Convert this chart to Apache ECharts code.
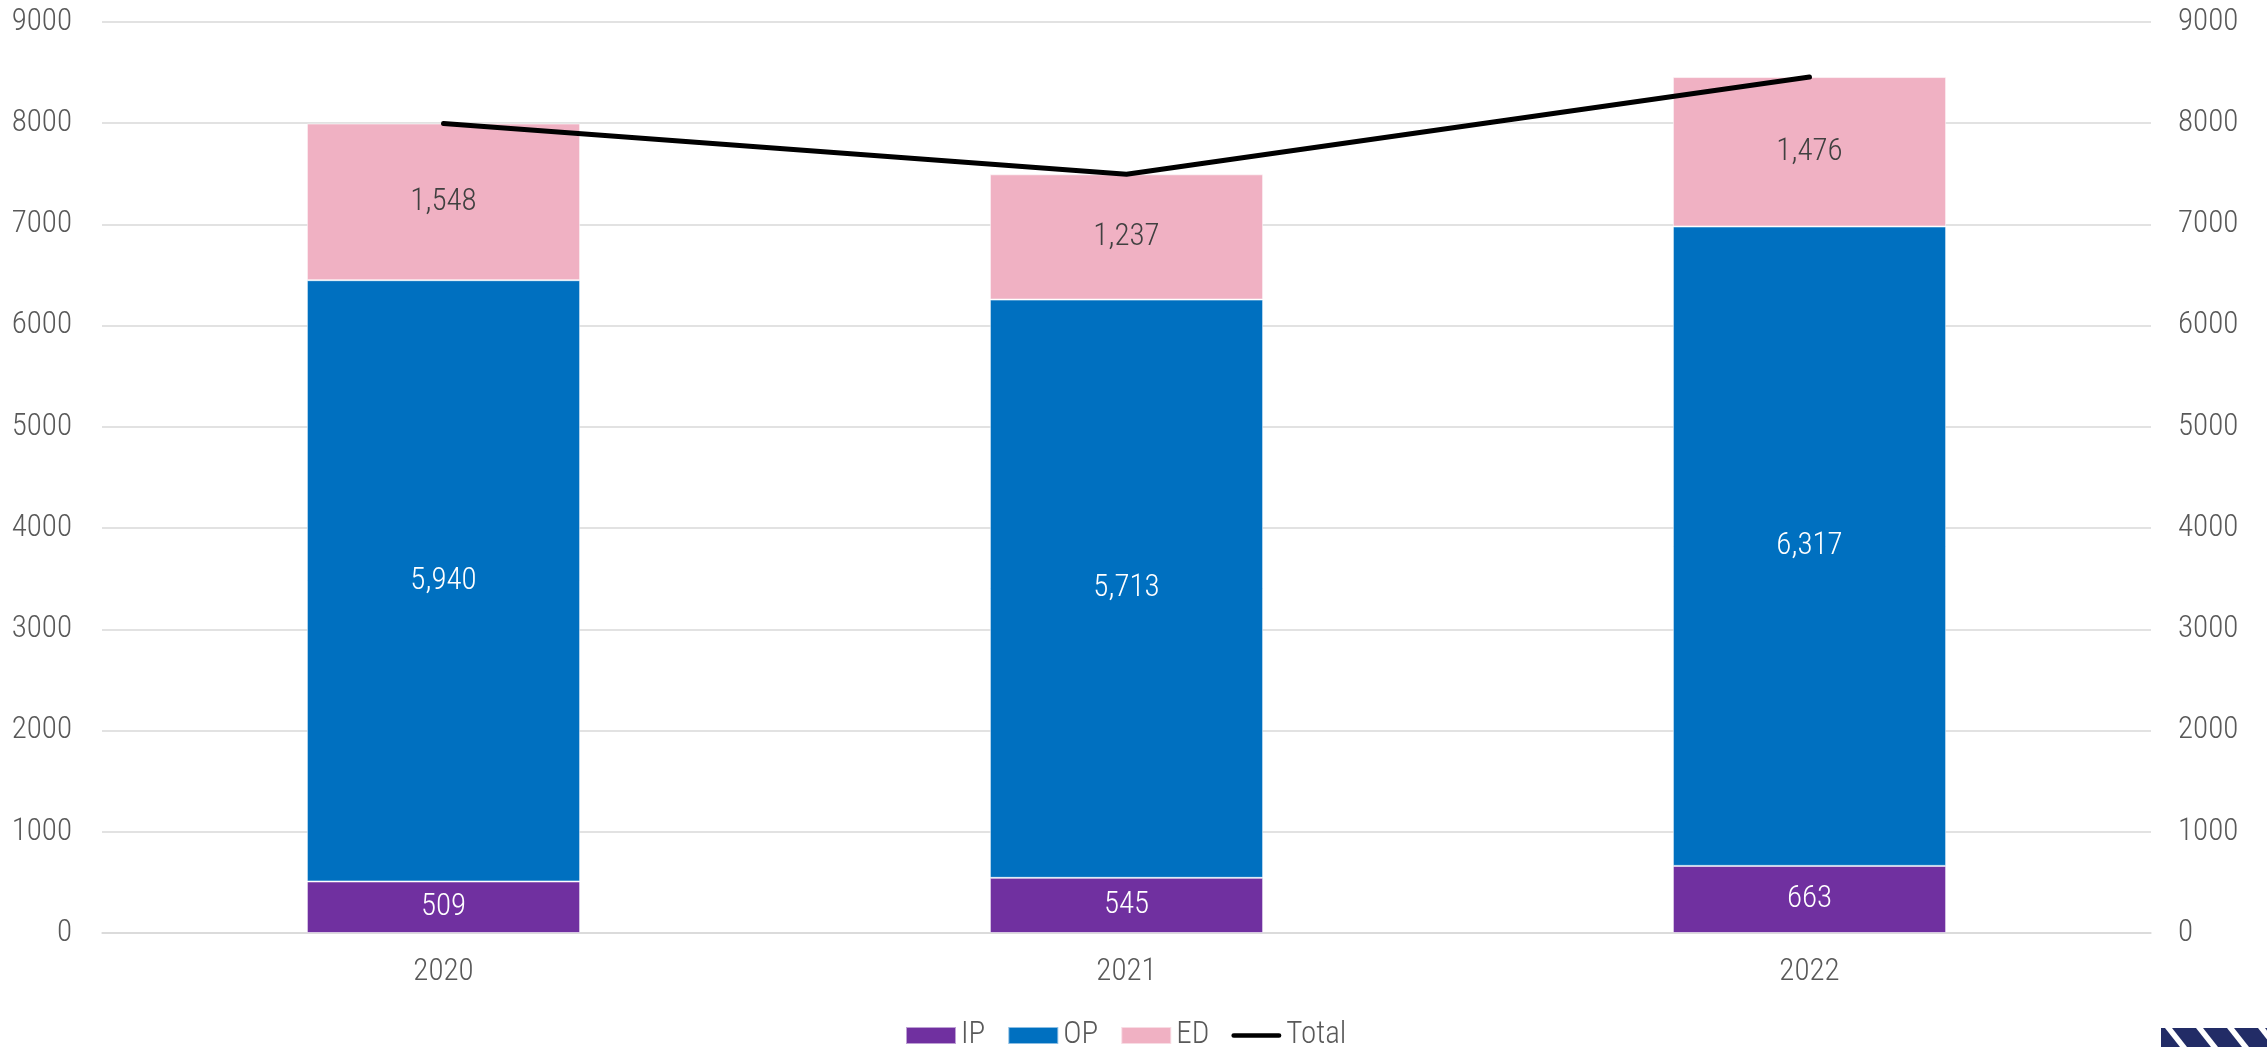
<!DOCTYPE html>
<html>
<head>
<meta charset="utf-8">
<style>
  html, body { margin: 0; padding: 0; background: #fff; }
  #chart { width: 2267px; height: 1047px; }
</style>
<script src="https://cdn.jsdelivr.net/npm/echarts@6/dist/echarts.min.js"></script>
</head>
<body>
<div id="chart"></div>
<script>
// Visit volumes by setting, per year
const years = ['2020', '2021', '2022'];
const ipValues = [509, 545, 663];
const opValues = [5940, 5713, 6317];
const edValues = [1548, 1237, 1476];
const totalValues = [7997, 7495, 8456];
const yTicks = [0, 1000, 2000, 3000, 4000, 5000, 6000, 7000, 8000, 9000];

const FONT = '"Roboto Condensed", "Fira Sans Condensed", sans-serif';
const FONT_WEIGHT = 300;
const fmt = v => Number(v).toLocaleString('en-US');

const chart = echarts.init(document.getElementById('chart'), null, { renderer: 'canvas' });

const segLabel = color => ({
  show: true,
  position: 'inside',
  color: color,
  fontFamily: FONT,
  fontWeight: FONT_WEIGHT,
  fontSize: 31,
  formatter: p => fmt(p.value)
});

const barItem = color => ({
  color: color,
  borderColor: 'rgba(255,255,255,0.55)',
  borderWidth: 1
});

// Striped corner badge (bottom right)
const stripes = [];
[2165, 2196, 2227, 2258].forEach(x0 => {
  stripes.push({
    type: 'polygon',
    shape: { points: [[x0, 1028], [x0 + 7, 1028], [x0 + 22, 1047], [x0 + 15, 1047]] },
    style: { fill: '#ffffff' },
    z: 11
  });
});

const axisText = { color: '#595959', fontFamily: FONT, fontWeight: FONT_WEIGHT, fontSize: 31 };

const yAxisBase = {
  type: 'value',
  min: yTicks[0],
  max: yTicks[yTicks.length - 1],
  interval: 1000,
  axisLine: { show: false },
  axisTick: { show: false }
};

chart.setOption({
  animation: false,
  backgroundColor: '#ffffff',
  grid: { left: 102, right: 116, top: 22, bottom: 114, containLabel: false },
  legend: {
    left: 900,
    top: 1015,
    itemWidth: 50,
    itemHeight: 17,
    itemGap: 22,
    symbolKeepAspect: true,
    textStyle: axisText,
    data: [
      { name: 'IP', icon: 'rect' },
      { name: 'OP', icon: 'rect' },
      { name: 'ED', icon: 'rect' },
      { name: 'Total', icon: 'path://M2.5,0 L50.5,0 A2.5,2.5 0 0 1 50.5,5 L2.5,5 A2.5,2.5 0 0 1 2.5,0 Z' }
    ]
  },
  xAxis: {
    type: 'category',
    data: years,
    axisLine: { show: true, lineStyle: { color: '#d9d9d9', width: 1.5 } },
    axisTick: { show: false },
    axisLabel: Object.assign({}, axisText, { margin: 24 })
  },
  yAxis: [
    Object.assign({}, yAxisBase, {
      position: 'left',
      axisLabel: Object.assign({}, axisText, { margin: 30, formatter: v => String(v) }),
      splitLine: { show: true, lineStyle: { color: '#d9d9d9', width: 1.5 } }
    }),
    Object.assign({}, yAxisBase, {
      position: 'right',
      axisLabel: Object.assign({}, axisText, { margin: 27, formatter: v => String(v) }),
      splitLine: { show: false }
    })
  ],
  series: [
    {
      name: 'IP', type: 'bar', stack: 'visits', barWidth: '40%',
      data: ipValues, itemStyle: barItem('#7030A0'), label: segLabel('#ffffff')
    },
    {
      name: 'OP', type: 'bar', stack: 'visits', barWidth: '40%',
      data: opValues, itemStyle: barItem('#0070C0'), label: segLabel('#ffffff')
    },
    {
      name: 'ED', type: 'bar', stack: 'visits', barWidth: '40%',
      data: edValues, itemStyle: barItem('#F0B1C3'), label: segLabel('#404040')
    },
    {
      name: 'Total', type: 'line', data: totalValues,
      symbol: 'none', z: 5,
      lineStyle: { color: '#000000', width: 5, cap: 'round', join: 'round' },
      itemStyle: { color: '#000000' }
    }
  ],
  graphic: [
    {
      type: 'rect',
      shape: { x: 2161, y: 1028, width: 106, height: 19 },
      style: { fill: '#222C66' },
      z: 10
    }
  ].concat(stripes)
});
</script>
</body>
</html>
